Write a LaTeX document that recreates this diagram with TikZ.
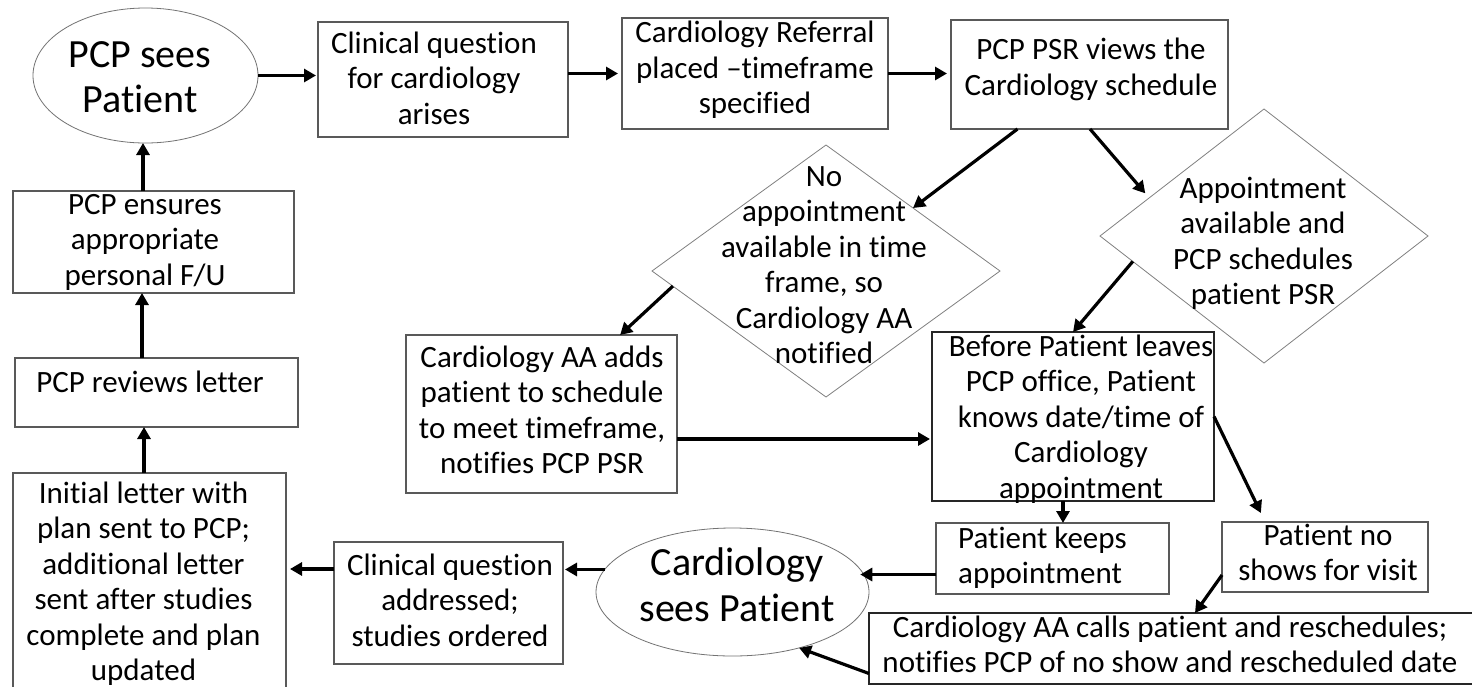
\documentclass[tikz,border=0pt]{standalone}
\usepackage{fontspec}
\setmainfont[Ligatures={NoCommon}]{Carlito}
\usetikzlibrary{shapes.geometric,arrows.meta,calc}
\begin{document}
\begin{tikzpicture}[x=1pt,y=-1pt,
 box/.style={draw=black!65,line width=1.3pt,rectangle,inner sep=0pt,outer sep=0pt},
 dia/.style={draw=black!50,line width=0.8pt,diamond,inner sep=0pt,outer sep=0pt},
 ell/.style={draw=black!55,line width=0.8pt,ellipse,inner sep=0pt,outer sep=0pt},
 txt/.style={font=\fontsize{31}{35.5}\selectfont,align=center,inner sep=0pt},
 big/.style={font=\fontsize{40}{45}\selectfont,align=center,inner sep=0pt},
 arr/.style={line width=3.2pt,-{Triangle[length=12pt,width=13pt]}}]

\fill[white] (0,0) rectangle (1472,686);
\useasboundingbox (0,0) rectangle (1472,686);

% shapes
\node[ell,minimum width=225pt,minimum height=135pt] (pcp) at (145.5,75.5) {};
\node[box,minimum width=250pt,minimum height=115pt] (cq) at (443,79.5) {};
\node[box,minimum width=266pt,minimum height=111pt] (ref) at (755,73.5) {};
\node[box,minimum width=277pt,minimum height=109pt] (psr) at (1089.5,74.5) {};
\node[dia,minimum width=348pt,minimum height=252pt] (nd) at (826,271) {};
\node[dia,minimum width=328pt,minimum height=254pt] (ad) at (1264,236) {};
\node[box,minimum width=271pt,minimum height=158pt] (aa) at (541.5,414) {};
\node[box,draw=black!85,minimum width=282pt,minimum height=169pt] (before) at (1073,416.5) {};
\node[box,minimum width=233pt,minimum height=71pt] (keeps) at (1052.5,558.5) {};
\node[box,minimum width=206pt,minimum height=70pt] (noshow) at (1325,557) {};
\node[box,draw=black!85,minimum width=621pt,minimum height=71pt] (calls) at (1179.5,648.5) {};
\node[ell,minimum width=273pt,minimum height=128pt] (cards) at (732.5,592) {};
\node[box,minimum width=229pt,minimum height=122pt] (cqa) at (448.5,603) {};
\node[box,minimum width=273pt,minimum height=237pt] (init) at (149.5,591.5) {};
\node[box,minimum width=283pt,minimum height=69pt] (rev) at (156.5,392.5) {};
\node[box,minimum width=281pt,minimum height=102pt] (ens) at (153.5,242) {};

% texts
\node[big] (pcpt) at (140,77) {PCP sees\\Patient};
\node[txt] (cqt) at (434,78) {Clinical question\\for cardiology\\arises};
\node[txt] (reft) at (755,70) {Cardiology Referral\\placed –timeframe\\specified};
\node[txt] (psrt) at (1091,69.5) {PCP PSR views the\\Cardiology schedule};
\node[txt] (ndt) at (824,265) {No\\appointment\\available in time\\frame, so\\Cardiology AA\\notified};
\node[txt] (adt) at (1263,243.5) {Appointment\\available and\\PCP schedules\\patient PSR};
\node[txt] (aat) at (542,410) {Cardiology AA adds\\patient to schedule\\to meet timeframe,\\notifies PCP PSR};
\node[txt] (beforet) at (1081,419) {Before Patient leaves\\PCP office, Patient\\knows date/time of\\Cardiology\\appointment};
\node[txt,align=left,anchor=west] (keepst) at (958,557.5) {Patient keeps\\appointment};
\node[txt] (noshowt) at (1328,552.5) {Patient no\\shows for visit};
\node[txt] (callst) at (1170,644.5) {Cardiology AA calls patient and reschedules;\\notifies PCP of no show and rescheduled date};
\node[big,font=\fontsize{40}{46}\selectfont] (cardst) at (737,585) {Cardiology\\sees Patient};
\node[txt] (cqat) at (450,600) {Clinical question\\addressed;\\studies ordered};
\node[txt] (initt) at (143.5,583.5) {Initial letter with\\plan sent to PCP;\\additional letter\\sent after studies\\complete and plan\\updated};
\node[txt] (revt) at (150,382) {PCP reviews letter};
\node[txt] (enst) at (145,242) {PCP ensures\\appropriate\\personal F/U};

% connectors
\draw[arr,shorten >=2pt] (pcp.east) -- (pcp.east -| cq.west);
\draw[arr,shorten >=4pt] (cq.east |- ref.west) -- (ref.west);
\draw[arr,shorten >=4pt] (ref.east) -- (ref.east -| psr.west);
\draw[arr] ($(psr.south)+(-72,0)$) -- (nd.north east);
\draw[arr,shorten >=6pt] ($(psr.south)+(0.5,0)$) -- ($(ad.west)!0.3!(ad.north)$);
\draw[arr] ($(nd.west)!0.12!(nd.south)$) -- ($(aa.north west)!0.79!(aa.north east)$);
\draw[arr] ($(ad.west)!0.2!(ad.south)$) -- (before.north);
\draw[arr,shorten >=2pt] ($(aa.east)+(0,25)$) coordinate (a1) -- (a1 -| before.west);
\draw[arr] ($(before.south)+(-10,0)$) coordinate (b1) -- (b1 |- keeps.north);
\draw[arr,shorten >=10pt] (before.east) -- ($(noshow.north west)!0.21!(noshow.north east)$);
\draw[arr] ($(noshow.west)+(0,18)$) -- ($(calls.north west)+(326,0)$);
\draw[arr] ($(keeps.west)+(0,16)$) coordinate (k1) -- (k1 -| cards.10);
\draw[arr] ($(calls.west)+(0,25)$) -- (cards.-40);
\draw[arr,shorten >=2pt] (cards.170) -- (cards.170 -| cqa.east);
\draw[arr,shorten >=4pt] ($(cqa.west)+(0,-34)$) coordinate (c1) -- (c1 -| init.east);
\draw[arr] ($(init.north)+(-5.5,0)$) coordinate (i1) -- (i1 |- rev.south);
\draw[arr] ($(rev.north)+(-14.5,0)$) coordinate (r1) -- (r1 |- ens.south);
\draw[arr] ($(ens.north)+(-10.5,0)$) coordinate (e1) -- (e1 |- pcp.south);
\end{tikzpicture}
\end{document}
